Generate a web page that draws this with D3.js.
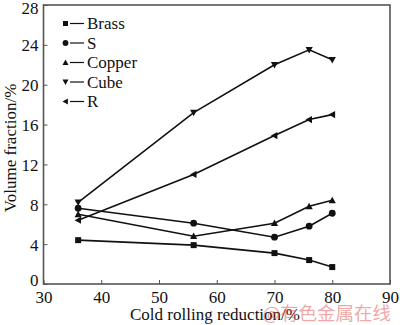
<!DOCTYPE html>
<html><head><meta charset="utf-8">
<script src="https://cdn.jsdelivr.net/npm/d3@7"></script>
<style>body{margin:0;background:#fff}svg{display:block}</style>
</head><body>
<svg id="c" width="400" height="325"></svg>
<script>
const reductions = [36, 56, 70, 76, 80];
const seriesNames = ["Brass", "S", "Copper", "Cube", "R"];
const brass = [4.4, 3.9, 3.1, 2.4, 1.7];
const sTex = [7.6, 6.1, 4.7, 5.8, 7.1];
const copper = [7.0, 4.8, 6.1, 7.8, 8.4];
const cube = [8.2, 17.2, 22.0, 23.5, 22.5];
const rTex = [6.4, 11.0, 14.9, 16.5, 17.0];
const xTicks = [30, 40, 50, 60, 70, 80, 90];
const yTicks = [0, 4, 8, 12, 16, 20, 24, 28];
const markers = ["square", "circle", "up", "down", "left"];
const seriesValues = [brass, sTex, copper, cube, rTex];

const svg = d3.select("#c");
const L = 43.5, R = 390, T = 5, B = 284;
const x = d3.scaleLinear().domain([30, 90]).range([L, R]);
const y = d3.scaleLinear().domain([0, 28]).range([B, T]);
const font = "'Liberation Serif', 'Times New Roman', serif";
const axisCol = "#555";

// frame
svg.append("rect").attr("x", L).attr("y", T).attr("width", R - L).attr("height", B - T)
  .attr("fill", "none").attr("stroke", axisCol).attr("stroke-width", 1.6);

const xa = svg.append("g").attr("transform", `translate(0,${B})`)
  .call(d3.axisBottom(x).tickValues(xTicks).tickSize(-4).tickPadding(7).tickFormat(d3.format("d")));
const ya = svg.append("g").attr("transform", `translate(${L},0)`)
  .call(d3.axisLeft(y).tickValues(yTicks).tickSize(-4).tickPadding(5).tickFormat(d3.format("d")));
[xa, ya].forEach(g => {
  g.select(".domain").remove();
  g.selectAll(".tick line").attr("stroke", axisCol).attr("stroke-width", 1);
  g.selectAll("text").attr("font-family", font).attr("font-size", 17).attr("fill", "#111");
});
ya.selectAll(".tick text").attr("dy", "0.35em");
ya.selectAll(".tick").filter(d => d === 0).select("text").attr("dy", "0.1em");
ya.selectAll(".tick").filter(d => d === 28).select("text").attr("dy", "0.5em");

svg.append("text").attr("x", 215).attr("y", 320).attr("text-anchor", "middle")
  .attr("font-family", font).attr("font-size", 17).attr("fill", "#111").text("Cold rolling reduction/%");
svg.append("text").attr("transform", "translate(16,148) rotate(-90)").attr("text-anchor", "middle")
  .attr("font-family", font).attr("font-size", 17).attr("fill", "#111").text("Volume fraction/%");

// watermark
svg.append("text").attr("x", 391).attr("y", 320).attr("text-anchor", "end")
  .attr("font-family", "'Noto Sans CJK SC', sans-serif").attr("font-size", 18.5)
  .attr("fill", "rgba(225,90,90,0.55)").text("@有色金属在线");

function marker(g, type, cx, cy, s) {
  if (type === "square") g.append("rect").attr("x", cx - s/2).attr("y", cy - s/2).attr("width", s).attr("height", s);
  else if (type === "circle") g.append("circle").attr("cx", cx).attr("cy", cy).attr("r", s/2 + 0.4);
  else {
    let pts;
    const h = s * 0.6;
    if (type === "up") pts = [[cx, cy - h], [cx - h, cy + h*0.8], [cx + h, cy + h*0.8]];
    else if (type === "down") pts = [[cx, cy + h], [cx - h, cy - h*0.8], [cx + h, cy - h*0.8]];
    else pts = [[cx - h, cy], [cx + h*0.8, cy - h], [cx + h*0.8, cy + h]];
    g.append("polygon").attr("points", pts.map(p => p.join(",")).join(" "));
  }
}

const line = d3.line().x((d, i) => x(reductions[i])).y(d => y(d));
seriesValues.forEach((vals, k) => {
  svg.append("path").attr("d", line(vals)).attr("fill", "none").attr("stroke", "#111").attr("stroke-width", 1.6);
  const g = svg.append("g").attr("fill", "#111");
  vals.forEach((v, i) => marker(g, markers[k], x(reductions[i]), y(v), 6));
});

// legend
const ly = [23.5, 43, 62.5, 82, 101.5];
seriesNames.forEach((n, k) => {
  const g = svg.append("g").attr("fill", "#111");
  marker(g, markers[k], 65.5, ly[k], 5);
  svg.append("line").attr("x1", 70).attr("x2", 84).attr("y1", ly[k]).attr("y2", ly[k]).attr("stroke", "#111").attr("stroke-width", 1.2);
  svg.append("text").attr("x", 87).attr("y", ly[k]).attr("dy", "0.35em").attr("font-family", font)
    .attr("font-size", 17).attr("fill", "#111").text(n);
});
</script>
</body></html>
